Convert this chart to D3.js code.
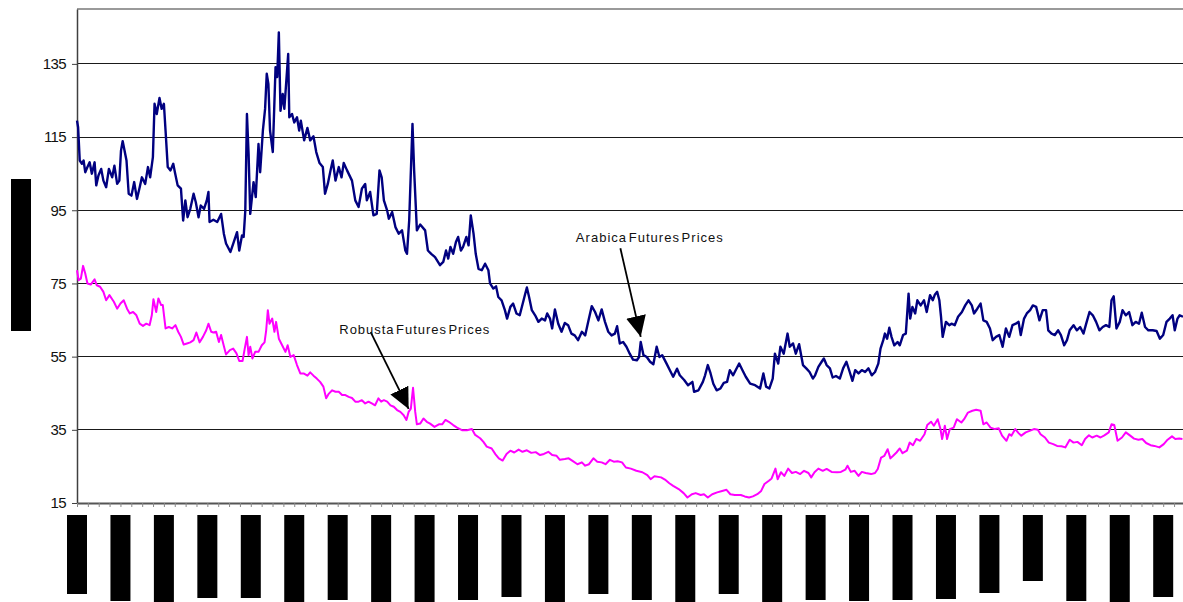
<!DOCTYPE html>
<html>
<head>
<meta charset="utf-8">
<script src="https://d3js.org/d3.v7.min.js"></script>
<style>
  body { margin: 0; background: #fff; }
  svg { display: block; font-family: "Liberation Sans", Arial, sans-serif; }
</style>
</head>
<body>
<script>
// [trading day, price]
var arabica = [[0,119.5],[2,117.7],[5,108.6],[9,107.7],[12,108.6],[15,105.4],[19,106.8],[23,108.1],[27,105.0],[32,108.1],[35,101.8],[39,104.5],[44,106.3],[48,103.1],[53,101.3],[58,106.3],[64,104.0],[68,107.2],[73,102.2],[77,103.1],[80,111.3],[83,113.9],[90,108.6],[94,99.5],[99,99.0],[104,102.7],[109,98.1],[114,101.3],[118,104.0],[124,102.2],[129,106.8],[133,104.0],[138,109.5],[141,124.1],[145,121.3],[150,125.7],[154,122.7],[158,124.1],[161,116.8],[165,106.8],[170,105.9],[175,107.7],[178,105.4],[183,101.8],[189,100.9],[193,92.2],[197,97.7],[201,93.1],[206,95.4],[212,99.5],[216,97.2],[221,93.1],[225,96.3],[231,95.4],[236,97.7],[239,100.0],[241,91.8],[248,92.4],[255,91.8],[262,94.0],[267,88.6],[271,85.9],[279,83.6],[285,86.3],[291,89.0],[295,84.0],[300,88.1],[303,87.7],[306,94.9],[309,121.3],[312,110.4],[315,94.0],[321,102.7],[325,98.6],[330,113.1],[333,105.4],[338,116.8],[342,122.7],[345,132.3],[348,129.5],[351,116.8],[356,110.9],[361,134.1],[364,131.4],[367,143.6],[370,122.2],[374,126.8],[377,122.7],[380,129.1],[384,137.7],[386,120.4],[391,121.3],[395,119.0],[400,120.4],[404,116.8],[407,119.5],[413,114.1],[419,117.5],[424,114.1],[430,115.2],[435,110.9],[441,107.9],[447,106.8],[451,99.5],[456,102.2],[461,105.9],[465,108.6],[470,103.1],[476,106.8],[481,104.0],[485,107.9],[491,105.9],[500,103.1],[506,97.7],[512,95.9],[518,100.9],[524,102.2],[527,97.7],[533,100.0],[539,93.6],[545,94.0],[550,105.9],[554,104.0],[558,97.7],[564,94.9],[567,92.7],[573,94.5],[579,90.4],[585,88.6],[591,89.5],[597,84.0],[600,83.1],[604,92.2],[610,118.6],[613,105.9],[618,89.5],[624,91.1],[633,89.5],[638,84.0],[644,83.1],[651,82.2],
  [660,80.0],[666,80.9],[671,84.0],[675,81.8],[679,85.0],[684,83.1],[689,86.3],[693,87.7],[698,84.0],[702,85.0],[708,87.7],[712,85.4],[716,93.6],[721,88.6],[725,83.1],[730,79.0],[736,78.6],[742,80.4],[748,78.6],[751,75.0],[757,73.6],[762,74.2],[766,71.3],[772,70.4],[778,67.7],[782,65.4],[788,68.6],[793,69.5],[799,66.8],[805,66.3],[812,70.4],[815,72.2],[818,73.9],[822,71.3],[827,67.7],[833,66.3],[839,64.5],[845,65.4],[851,64.9],[855,66.8],[860,65.4],[864,62.7],[869,67.9],[875,64.0],[881,61.8],[887,64.2],[893,63.6],[899,61.3],[905,60.8],[911,59.5],[918,61.8],[924,60.8],[930,64.9],[936,68.8],[942,67.2],[948,64.9],[954,67.9],[960,64.5],[966,61.8],[972,60.8],[978,61.3],[982,63.3],[987,58.6],[993,59.0],[999,57.7],[1005,55.8],[1011,54.2],[1018,54.0],[1022,54.9],[1025,59.0],[1030,55.4],[1036,54.9],[1042,53.6],[1048,52.9],[1054,57.7],[1059,54.9],[1064,55.4],[1072,53.1],[1078,51.3],[1084,49.5],[1091,51.7],[1096,49.9],[1104,48.6],[1111,47.2],[1119,48.1],[1122,45.4],[1130,45.8],[1138,48.1],[1142,49.9],[1147,52.7],[1152,50.4],[1157,47.6],[1163,45.8],[1170,46.3],[1176,47.8],[1182,48.1],[1187,51.3],[1193,49.9],[1199,51.7],[1204,53.1],[1210,51.3],[1216,49.5],[1224,47.6],[1233,47.2],[1242,46.3],[1248,50.4],[1253,46.8],[1259,46.3],[1265,49.0],[1269,55.8],[1275,53.1],[1279,57.7],[1285,55.8],[1292,61.3],[1296,57.7],[1302,58.6],[1307,55.8],[1313,58.4],
  [1320,52.7],[1326,51.8],[1332,50.8],[1338,49.0],[1342,49.9],[1348,52.2],[1354,53.6],[1358,54.5],[1363,52.7],[1369,51.8],[1374,49.3],[1380,49.7],[1387,49.0],[1393,51.8],[1399,53.6],[1405,50.8],[1410,48.4],[1415,51.3],[1421,50.4],[1427,51.3],[1433,50.8],[1439,51.8],[1445,49.9],[1451,50.8],[1457,53.1],[1461,57.2],[1466,59.5],[1469,61.3],[1473,59.9],[1477,62.9],[1481,60.4],[1486,58.1],[1492,59.0],[1496,58.1],[1502,60.9],[1507,61.3],[1512,72.2],[1515,65.4],[1519,68.6],[1524,66.8],[1528,70.4],[1534,69.0],[1540,70.4],[1545,67.2],[1551,71.8],[1556,70.4],[1560,72.0],[1564,72.7],[1568,70.4],[1571,65.9],[1574,60.4],[1580,64.5],[1586,63.6],[1590,64.0],[1596,63.6],[1602,65.9],[1609,67.2],[1615,69.0],[1621,70.4],[1627,69.0],[1631,66.8],[1637,68.1],[1643,69.5],[1648,64.9],[1654,64.5],[1660,62.7],[1665,59.5],[1671,60.4],[1677,60.9],[1683,57.7],[1689,62.7],[1695,60.4],[1701,63.6],[1707,64.0],[1712,64.5],[1716,60.9],[1722,65.4],[1727,66.8],[1733,67.7],[1738,69.0],[1744,68.6],[1750,64.9],[1756,67.7],[1762,67.7],[1766,62.2],[1772,61.3],[1778,60.9],[1784,62.2],[1789,60.9],[1795,58.1],[1800,59.5],[1805,62.2],[1812,63.6],[1818,62.2],[1824,63.1],[1830,61.3],[1835,64.0],[1841,67.2],[1847,66.3],[1853,64.5],[1859,62.2],[1865,63.1],[1871,63.6],[1877,63.1],[1881,70.4],[1885,71.5],[1890,62.7],[1896,64.5],[1901,67.7],[1907,66.3],[1913,67.2],[1919,63.6],[1925,64.5],[1931,64.0],[1936,67.0],[1942,63.1],[1948,62.2],[1956,62.2],[1963,62.0],[1969,59.9],[1975,60.9],[1981,64.5],[1987,65.4],[1992,66.3],[1996,62.2],[2001,65.4],[2005,66.3],[2011,65.9]];

var robusta = [[0,78.6],[3,75.9],[7,76.3],[11,79.8],[15,77.7],[19,75.0],[25,74.7],[32,76.1],[36,74.5],[42,74.1],[48,72.7],[53,70.4],[59,71.8],[67,70.0],[73,68.1],[79,69.5],[85,70.4],[91,68.1],[96,66.8],[102,67.2],[108,66.3],[114,64.0],[120,63.4],[126,64.0],[132,63.6],[136,66.3],[139,70.7],[144,67.2],[148,70.9],[153,69.1],[156,69.1],[161,62.7],[167,63.1],[173,62.7],[179,63.6],[184,61.8],[189,60.4],[194,58.3],[200,58.6],[206,58.9],[212,59.5],[217,61.6],[223,58.9],[229,60.4],[235,62.2],[239,64.0],[244,61.8],[248,61.6],[253,61.8],[258,59.0],[262,60.9],[267,57.9],[271,55.6],[278,56.8],[284,57.2],[290,55.9],[295,53.8],[301,53.8],[305,57.2],[309,60.4],[312,55.4],[315,57.7],[319,54.5],[324,56.3],[330,56.3],[336,58.1],[341,58.9],[344,62.2],[347,67.7],[350,64.0],[355,65.4],[359,61.8],[362,64.5],[367,59.9],[373,58.1],[379,56.3],[383,58.1],[388,54.9],[394,55.4],[400,52.7],[406,50.4],[412,50.4],[419,49.8],[424,50.7],[430,49.8],[436,49.0],[442,48.1],[448,46.8],[453,43.6],[458,44.9],[464,45.8],[470,45.4],[476,45.4],[482,44.5],[488,44.5],[494,44.0],[500,43.7],[506,42.7],[512,42.7],[518,43.1],[524,42.2],[530,42.7],[536,42.2],[542,41.7],[548,43.6],[553,42.7],[558,43.1],[564,42.7],[570,41.7],[576,41.3],[582,40.4],[588,39.9],[594,39.0],[599,37.7],[603,39.9],[607,40.8],[611,46.5],[615,39.9],[618,36.5],[624,36.7],[630,38.1],[636,37.2],[642,36.7],[650,35.8],[658,36.5],[664,36.5],[670,37.7],[676,37.2],[684,36.3],[691,35.6],[700,34.9],[709,34.9],[718,35.2],[724,33.6],[733,32.7],[739,31.7],[745,30.4],[754,29.9],[761,28.3],
  [767,27.2],[774,26.6],[781,28.4],[788,29.3],[795,28.8],[803,29.6],[810,29.0],[818,29.4],[826,28.7],[834,28.9],
  [842,28.1],[849,28.4],[857,29.0],[864,28.1],[872,27.9],[878,26.8],[887,27.0],[894,27.2],[901,26.5],[910,25.6],[918,26.1],[924,25.2],[931,25.6],[939,27.2],[946,26.3],[954,26.1],[961,25.6],[969,26.8],[976,26.3],[983,26.4],[991,26.1],[998,24.7],[1007,24.4],[1017,23.8],[1028,23.4],[1037,22.6],[1043,21.5],[1050,22.3],[1062,22.0],[1069,21.4],[1077,20.4],[1084,19.7],[1094,18.8],[1103,17.7],[1110,16.5],[1118,17.4],[1125,17.7],[1134,17.2],[1140,17.4],[1147,16.5],[1155,17.4],[1164,17.9],[1173,18.3],[1181,18.6],[1188,17.4],[1196,17.2],[1207,17.2],[1214,16.8],[1222,16.5],[1229,16.8],[1237,17.4],[1244,18.3],[1250,20.2],[1258,21.1],[1263,21.7],[1270,24.4],[1274,21.5],[1280,23.4],[1286,22.4],[1293,24.4],[1300,23.2],[1307,23.5],[1315,22.9],[1322,23.8],[1330,23.2],[1335,22.0],[1341,23.4],[1348,24.4],[1356,23.8],[1363,24.3],[1372,23.5],[1382,23.4],[1389,23.5],[1397,24.1],[1401,25.2],[1407,23.5],[1414,23.8],[1421,22.4],[1427,23.5],[1434,23.2],[1444,22.9],[1451,23.2],[1456,24.3],[1462,27.4],[1468,27.9],[1474,29.7],[1479,27.2],[1484,27.9],[1490,28.8],[1496,29.9],[1501,28.6],[1509,29.3],[1514,31.5],[1520,30.8],[1526,32.5],[1533,32.0],[1541,33.8],[1546,36.3],[1553,37.2],[1558,36.1],[1565,37.9],[1570,35.2],[1573,32.5],[1578,36.1],[1582,32.5],[1587,35.2],[1594,35.6],[1600,37.9],[1608,37.0],[1613,37.9],[1620,39.7],[1628,40.2],[1635,40.5],[1643,40.2],[1648,36.5],[1654,37.0],[1661,35.6],[1669,35.2],[1676,35.4],[1682,33.4],[1690,32.0],[1695,33.8],[1699,33.4],[1706,35.2],[1712,34.1],[1717,33.4],[1725,34.3],[1732,34.7],[1740,35.2],[1747,35.0],[1752,33.8],[1760,32.9],[1767,31.5],[1775,31.1],[1782,30.6],[1790,30.5],[1797,30.2],[1805,32.3],[1812,31.5],[1819,31.7],[1827,30.8],[1833,32.5],[1840,33.5],[1846,32.9],[1854,33.4],[1861,32.9],[1868,33.5],[1876,34.3],[1881,36.5],[1886,36.3],[1892,32.0],[1900,32.9],[1907,34.3],[1915,33.4],[1922,32.6],[1930,32.3],[1937,32.5],[1944,31.4],[1952,30.8],[1959,30.6],[1968,30.2],[1976,31.1],[1983,32.3],[1991,33.2],[1997,32.5],[2004,32.6],[2010,32.5]];

var yTicks = [15, 35, 55, 75, 95, 115, 135];
var lastDay = 2011;
var labelStep = 79;              // days between (redacted) date labels
var labelLen = [79,86,87,83,83,87,85,87,87,85,82,87,79,85,87,79,87,85,86,85,84,78,66,86,87,82];

// annotation arrows, in data coordinates
var notes = [
  {text: "Arabica Futures Prices", at: [907, 86.3], from: [988, 84.6], to: [1025, 60.4], len: 147},
  {text: "Robusta Futures Prices", at: [477, 61.2], from: [534, 61.7], to: [603, 40.7], len: 150}
];

var width = 1183, height = 602;

var svg = d3.select("body").append("svg")
    .attr("width", width)
    .attr("height", height);

var x = d3.scaleLinear().domain([0, lastDay]).range([77, 1183]);
var y = d3.scaleLinear().domain([15, 150]).range([503, 9]);

// gridlines
svg.append("g").selectAll("line")
    .data(yTicks.slice(1))
    .enter().append("line")
    .attr("x1", x(0)).attr("x2", x(lastDay))
    .attr("y1", function(d) { return y(d); })
    .attr("y2", function(d) { return y(d); })
    .attr("stroke", "#1a1a1a")
    .attr("stroke-width", 1)
    .attr("shape-rendering", "crispEdges");

// top border of the plot
svg.append("line")
    .attr("x1", x(0)).attr("x2", x(lastDay))
    .attr("y1", y(150)).attr("y2", y(150))
    .attr("stroke", "#9a9a9a")
    .attr("stroke-width", 2);

// y axis
var yAxis = svg.append("g")
    .attr("transform", "translate(" + x(0) + ",0)")
    .call(d3.axisLeft(y).tickValues(yTicks).tickSize(5).tickSizeOuter(0).tickPadding(6));
yAxis.select(".domain").attr("stroke", "#404040").attr("stroke-width", 1.5);
yAxis.selectAll(".tick line").attr("stroke", "#404040");
yAxis.selectAll("text")
    .attr("font-size", "15px")
    .attr("letter-spacing", "-0.6px")
    .attr("fill", "#111")
    .style("font-family", "'Liberation Sans', Arial, sans-serif");

// x axis with minor ticks
var xAxis = svg.append("g")
    .attr("transform", "translate(0," + y(15) + ")")
    .call(d3.axisBottom(x)
        .tickValues(d3.range(0, lastDay, labelStep / 4))
        .tickSize(4).tickSizeOuter(0).tickFormat(""));
xAxis.select(".domain").attr("stroke", "#555").attr("stroke-width", 2);
xAxis.selectAll(".tick line").attr("stroke", "#888");

// redacted date labels
svg.append("g").selectAll("rect")
    .data(labelLen)
    .enter().append("rect")
    .attr("x", function(d, i) { return x(i * labelStep) - 10; })
    .attr("y", 515)
    .attr("width", 20)
    .attr("height", function(d) { return d; })
    .attr("fill", "#000");

// redacted y axis title
svg.append("rect")
    .attr("x", 11).attr("y", 179)
    .attr("width", 20).attr("height", 152)
    .attr("fill", "#000");

var line = d3.line()
    .x(function(d) { return x(d[0]); })
    .y(function(d) { return y(d[1]); });

svg.append("path")
    .datum(robusta)
    .attr("d", line)
    .attr("fill", "none")
    .attr("stroke", "#ff00ff")
    .attr("stroke-width", 2)
    .attr("stroke-linejoin", "round");

svg.append("path")
    .datum(arabica)
    .attr("d", line)
    .attr("fill", "none")
    .attr("stroke", "#000080")
    .attr("stroke-width", 2.4)
    .attr("stroke-linejoin", "round");

// arrowhead
svg.append("defs").append("marker")
    .attr("id", "head")
    .attr("viewBox", "0 -10 21 20")
    .attr("refX", 21).attr("refY", 0)
    .attr("markerWidth", 21).attr("markerHeight", 20)
    .attr("markerUnits", "userSpaceOnUse")
    .attr("orient", "auto")
    .append("path")
    .attr("d", "M0,-10L21,0L0,10Z")
    .attr("fill", "#000");

var ann = svg.append("g").selectAll("g")
    .data(notes)
    .enter().append("g");

ann.append("line")
    .attr("x1", function(d) { return x(d.from[0]); })
    .attr("y1", function(d) { return y(d.from[1]); })
    .attr("x2", function(d) { return x(d.to[0]); })
    .attr("y2", function(d) { return y(d.to[1]); })
    .attr("stroke", "#000")
    .attr("stroke-width", 1.8)
    .attr("marker-end", "url(#head)");

ann.append("text")
    .attr("x", function(d) { return x(d.at[0]); })
    .attr("y", function(d) { return y(d.at[1]); })
    .attr("font-size", "13px")
    .attr("fill", "#111")
    .attr("textLength", function(d) { return d.len; })
    .attr("lengthAdjust", "spacing")
    .style("word-spacing", "-3px")
    .text(function(d) { return d.text; });
</script>
</body>
</html>
